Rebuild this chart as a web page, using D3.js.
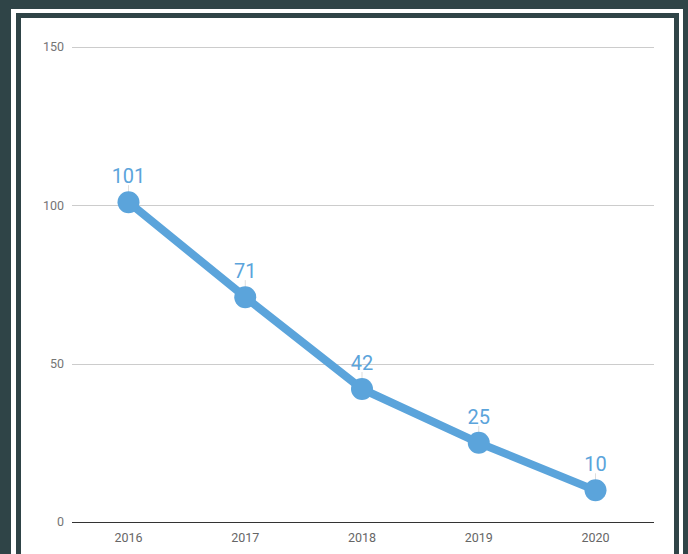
<!DOCTYPE html>
<html>
<head>
<meta charset="utf-8">
<script src="https://cdn.jsdelivr.net/npm/d3@7"></script>
<style>
  body { margin: 0; background: #2f4447; }
  svg { display: block; font-family: Roboto, sans-serif; }
</style>
</head>
<body>
<script>
// chart data
var years = ["2016", "2017", "2018", "2019", "2020"];
var values = [101, 71, 42, 25, 10];
var yTicks = [0, 50, 100, 150];

var width = 688;
var height = 554;

var blue = "#5ba4db";

var svg = d3.select("body")
  .append("svg")
  .attr("width", width)
  .attr("height", height);

// frame: white band, dark line, white panel
svg.append("rect")
  .attr("x", 11).attr("y", 9)
  .attr("width", 672).attr("height", 560)
  .attr("fill", "#fff");
svg.append("rect")
  .attr("x", 18.5).attr("y", 15.5)
  .attr("width", 658).attr("height", 560)
  .attr("fill", "#fff")
  .attr("stroke", "#2f4447")
  .attr("stroke-width", 5);

var x = d3.scalePoint()
  .domain(years)
  .range([128.5, 595.5]);

var y = d3.scaleLinear()
  .domain([0, 150])
  .range([522, 47]);

// grid
svg.append("g")
  .selectAll("line")
  .data(yTicks.filter(function(d) { return d > 0; }))
  .enter()
  .append("line")
  .attr("x1", 72).attr("x2", 654)
  .attr("y1", function(d) { return Math.round(y(d)) + 0.5; })
  .attr("y2", function(d) { return Math.round(y(d)) + 0.5; })
  .attr("stroke", "#cccccc")
  .attr("stroke-width", 1);

// y labels
svg.append("g")
  .selectAll("text")
  .data(yTicks)
  .enter()
  .append("text")
  .attr("x", 64)
  .attr("y", function(d) { return y(d); })
  .attr("dy", "0.35em")
  .attr("text-anchor", "end")
  .attr("font-size", 12.5)
  .attr("fill", "#757575")
  .text(function(d) { return d; });

// x axis
svg.append("line")
  .attr("x1", 72).attr("x2", 654)
  .attr("y1", y(0) + 0.5).attr("y2", y(0) + 0.5)
  .attr("stroke", "#333")
  .attr("stroke-width", 1);

svg.append("g")
  .selectAll("text")
  .data(years)
  .enter()
  .append("text")
  .attr("x", function(d) { return x(d); })
  .attr("y", 542)
  .attr("text-anchor", "middle")
  .attr("font-size", 12.5)
  .attr("fill", "#666")
  .text(function(d) { return d; });

var pts = years.map(function(d, i) { return { year: d, value: values[i] }; });

// leader lines for labels
svg.append("g")
  .selectAll("line")
  .data(pts)
  .enter()
  .append("line")
  .attr("x1", function(d) { return x(d.year); })
  .attr("x2", function(d) { return x(d.year); })
  .attr("y1", function(d) { return y(d.value) - 17; })
  .attr("y2", function(d) { return y(d.value); })
  .attr("stroke", "#dddddd")
  .attr("stroke-width", 1);

var line = d3.line()
  .x(function(d) { return x(d.year); })
  .y(function(d) { return y(d.value); });

svg.append("path")
  .datum(pts)
  .attr("d", line)
  .attr("fill", "none")
  .attr("stroke", blue)
  .attr("stroke-width", 8);

svg.append("g")
  .selectAll("circle")
  .data(pts)
  .enter()
  .append("circle")
  .attr("cx", function(d) { return x(d.year); })
  .attr("cy", function(d) { return y(d.value); })
  .attr("r", 11)
  .attr("fill", blue);

svg.append("g")
  .selectAll("text")
  .data(pts)
  .enter()
  .append("text")
  .attr("x", function(d) { return x(d.year); })
  .attr("y", function(d) { return y(d.value) - 19; })
  .attr("text-anchor", "middle")
  .attr("font-size", 20)
  .attr("fill", blue)
  .text(function(d) { return d.value; });
</script>
</body>
</html>
